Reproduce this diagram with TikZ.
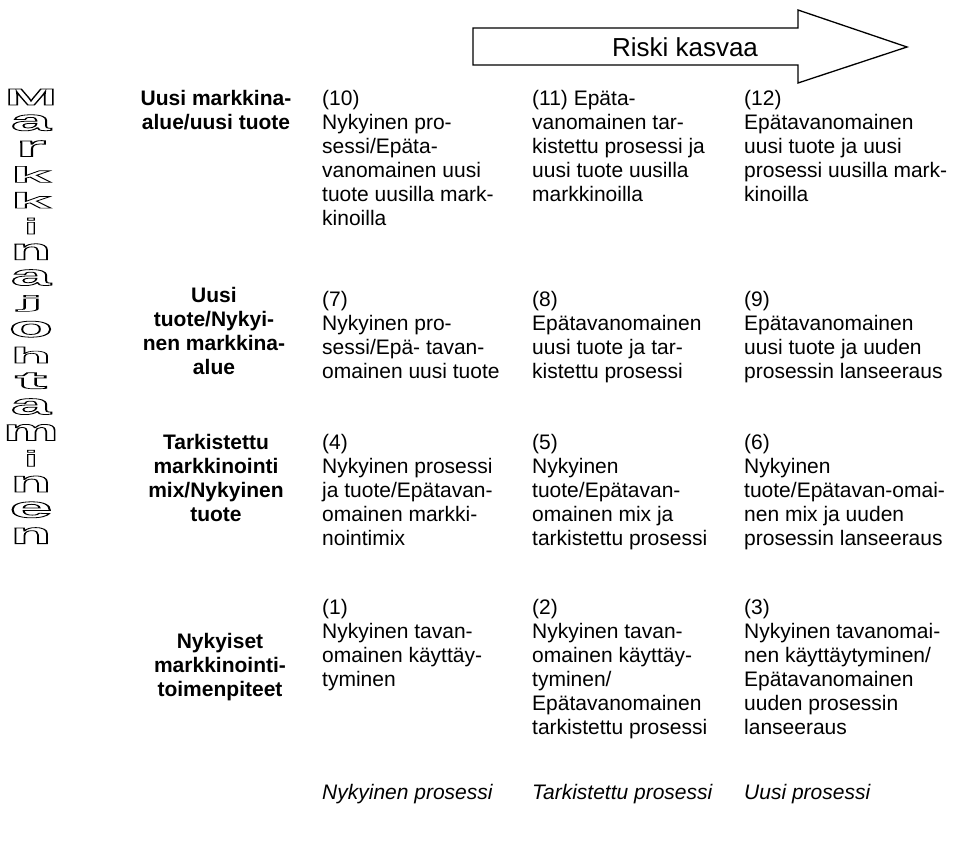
\documentclass[tikz,border=0pt]{standalone}
\usepackage{fontspec}
\setmainfont{Liberation Sans}
\usepackage{graphicx}
% outlined (hollow) letter, stretched to a fixed box
\newcommand\hollowglyph[2]{\resizebox*{#1pt}{16pt}{\fontsize{30}{30}\selectfont\bfseries\special{pdf:literal direct 1 Tr 0.8 w}#2\special{pdf:literal direct 0 Tr}}}
\begin{document}
\begin{tikzpicture}[x=1pt,y=-1pt,
  cell/.style={anchor=north west,align=left,inner sep=0pt,font=\fontsize{21}{24}\selectfont},
  rowlabel/.style={anchor=north,align=center,inner sep=0pt,font=\fontsize{21}{24}\selectfont\bfseries},
  axislabel/.style={anchor=north west,inner sep=0pt,font=\fontsize{21}{24}\selectfont\itshape},
  vletter/.style={inner sep=0pt,anchor=center},
  riskarrow/.style={draw=black,line width=1.3pt,line join=miter,fill=white}]
\path[use as bounding box,fill=white] (0,0) rectangle (963,843);

% risk arrow
\draw[riskarrow] (473,28) -- (798,28) -- (798,10) -- (907,47) -- (798,83) -- (798,65) -- (473,65) -- cycle;
\node[inner sep=0pt,font=\fontsize{26}{30}\selectfont] (risk) at (685,47) {Riski kasvaa};

% vertical title
\foreach \ch/\w [count=\k from 0] in {M/52,a/40,r/30,k/40,k/40,i/13,n/40,a/40,j/26,o/44,h/40,t/32,a/40,m/55,i/13,n/40,e/43,n/40}{
  \node[vletter] (v\k) at (31,{97+25.8*\k}) {\hollowglyph{\w}{\ch}};
}

% row labels
\node[rowlabel] (lA) at (216,{105-16.8}) {\strut Uusi markkina-\\alue/uusi tuote};
\node[rowlabel] (lB) at (214,{302-16.8}) {\strut Uusi\\tuote/Nykyi-\\nen markkina-\\alue};
\node[rowlabel] (lC) at (216,{449-16.8}) {\strut Tarkistettu\\markkinointi\\mix/Nykyinen\\tuote};
\node[rowlabel] (lD) at (220,{648-16.8}) {\strut Nykyiset\\markkinointi-\\toimenpiteet};

% cells
\node[cell] (c10) at (322,{105-16.8}) {\strut(10)\\Nykyinen pro-\\sessi/Epäta-\\vanomainen uusi\\tuote uusilla mark-\\kinoilla};
\node[cell] (c11) at (532,{105-16.8}) {\strut(11) Epäta-\\vanomainen tar-\\kistettu prosessi ja\\uusi tuote uusilla\\markkinoilla};
\node[cell] (c12) at (744,{105-16.8}) {\strut(12)\\Epätavanomainen\\uusi tuote ja uusi\\prosessi uusilla mark-\\kinoilla};

\node[cell] (c7) at (322,{306-16.8}) {\strut(7)\\Nykyinen pro-\\sessi/Epä- tavan-\\omainen uusi tuote};
\node[cell] (c8) at (532,{306-16.8}) {\strut(8)\\Epätavanomainen\\uusi tuote ja tar-\\kistettu prosessi};
\node[cell] (c9) at (744,{306-16.8}) {\strut(9)\\Epätavanomainen\\uusi tuote ja uuden\\prosessin lanseeraus};

\node[cell] (c4) at (322,{449-16.8}) {\strut(4)\\Nykyinen prosessi\\ja tuote/Epätavan-\\omainen markki-\\nointimix};
\node[cell] (c5) at (532,{449-16.8}) {\strut(5)\\Nykyinen\\tuote/Epätavan-\\omainen mix ja\\tarkistettu prosessi};
\node[cell] (c6) at (744,{449-16.8}) {\strut(6)\\Nykyinen\\tuote/Epätavan-omai-\\nen mix ja uuden\\prosessin lanseeraus};

\node[cell] (c1) at (322,{614-16.8}) {\strut(1)\\Nykyinen tavan-\\omainen käyttäy-\\tyminen};
\node[cell] (c2) at (532,{614-16.8}) {\strut(2)\\Nykyinen tavan-\\omainen käyttäy-\\tyminen/\\Epätavanomainen\\tarkistettu prosessi};
\node[cell] (c3) at (744,{614-16.8}) {\strut(3)\\Nykyinen tavanomai-\\nen käyttäytyminen/\\Epätavanomainen\\uuden prosessin\\lanseeraus};

% process axis
\node[axislabel] (pN) at (322,{799-16.8}) {\strut Nykyinen prosessi};
\node[axislabel] (pT) at (532,{799-16.8}) {\strut Tarkistettu prosessi};
\node[axislabel] (pU) at (744,{799-16.8}) {\strut Uusi prosessi};
\end{tikzpicture}
\end{document}
